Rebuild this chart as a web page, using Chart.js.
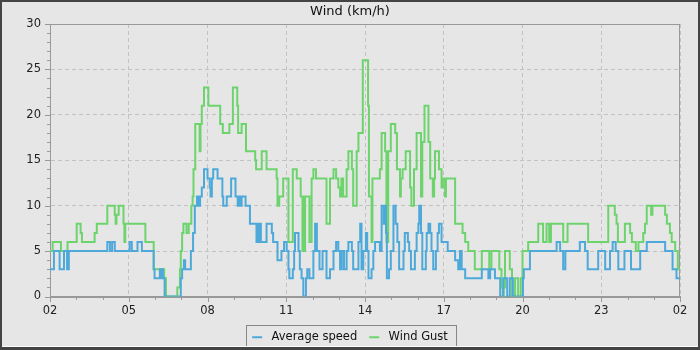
<!DOCTYPE html>
<html>
<head>
<meta charset="utf-8">
<script src="https://cdn.jsdelivr.net/npm/chart.js@4/dist/chart.umd.min.js"></script>
<style>
  html, body { margin: 0; padding: 0; background: #e6e6e6; }
  canvas { display: block; }
</style>
</head>
<body>
<canvas id="chartViento" width="700" height="350"></canvas>
<script>
// minutes after 02:00, each value holds until the next entry
const avgMinutes = [0, 9, 22, 32, 39, 43, 131, 137, 142, 148, 182, 187, 200, 210, 237, 239, 251, 254, 256, 258, 262, 299, 302, 306, 309, 322, 327, 331, 336, 339, 343, 347, 352, 360, 365, 367, 370, 373, 383, 394, 396, 404, 414, 424, 429, 432, 435, 438, 447, 457, 472, 475, 478, 480, 482, 495, 507, 510, 520, 529, 535, 541, 545, 547, 555, 558, 560, 568, 571, 575, 579, 585, 588, 593, 602, 606, 610, 616, 623, 632, 640, 648, 654, 659, 663, 667, 672, 678, 682, 690, 693, 705, 709, 712, 716, 722, 725, 728, 735, 739, 743, 754, 758, 763, 765, 768, 770, 775, 779, 785, 790, 794, 798, 808, 811, 818, 821, 825, 834, 838, 842, 844, 848, 851, 859, 861, 865, 869, 872, 876, 882, 886, 889, 895, 909, 926, 933, 937, 941, 949, 987, 1002, 1006, 1017, 1029, 1036, 1045, 1051, 1058, 1081, 1083, 1097, 1158, 1166, 1173, 1178, 1211, 1223, 1229, 1253, 1269, 1280, 1286, 1293, 1299, 1313, 1328, 1349, 1364, 1406, 1423, 1432, 1440];
const avgSpeed = [3, 5, 3, 5, 3, 5, 6, 5, 6, 5, 6, 5, 6, 5, 3, 2, 3, 2, 3, 2, 0, 2, 3, 4, 3, 5, 7, 10, 11, 10, 11, 12, 14, 13, 12, 11, 13, 14, 13, 11, 10, 11, 13, 11, 10, 11, 10, 11, 10, 8, 6, 8, 6, 8, 6, 8, 7, 6, 4, 5, 6, 5, 3, 2, 3, 5, 7, 5, 3, 2, 0, 2, 3, 2, 5, 8, 5, 3, 5, 2, 3, 5, 6, 5, 3, 5, 3, 5, 6, 5, 3, 6, 8, 3, 5, 7, 5, 2, 3, 5, 6, 5, 10, 8, 10, 7, 2, 3, 5, 10, 8, 6, 3, 5, 7, 6, 5, 3, 5, 7, 8, 10, 7, 3, 5, 7, 8, 7, 5, 3, 5, 7, 8, 6, 5, 4, 3, 5, 3, 2, 3, 2, 3, 2, 0, 2, 0, 2, 0, 2, 3, 5, 6, 5, 3, 5, 6, 5, 3, 5, 3, 5, 6, 5, 3, 5, 3, 5, 6, 5, 3, 2, 2];

const gustMinutes = [0, 6, 25, 40, 61, 70, 73, 102, 107, 131, 148, 150, 152, 157, 168, 170, 172, 218, 237, 261, 265, 291, 297, 299, 302, 305, 312, 317, 323, 326, 328, 332, 342, 344, 347, 352, 362, 389, 395, 410, 418, 428, 430, 438, 448, 469, 471, 484, 495, 518, 520, 524, 533, 545, 555, 564, 573, 577, 580, 581, 583, 593, 598, 602, 608, 632, 640, 648, 654, 659, 663, 666, 670, 678, 682, 690, 693, 701, 705, 715, 727, 729, 735, 737, 754, 758, 766, 769, 773, 779, 789, 793, 800, 802, 806, 813, 823, 826, 832, 838, 848, 851, 856, 865, 869, 875, 878, 880, 889, 895, 898, 903, 905, 926, 943, 949, 956, 971, 987, 1004, 1009, 1027, 1032, 1035, 1037, 1040, 1051, 1056, 1063, 1070, 1076, 1080, 1093, 1116, 1127, 1135, 1141, 1145, 1173, 1183, 1230, 1276, 1291, 1295, 1298, 1314, 1326, 1330, 1339, 1345, 1356, 1360, 1364, 1374, 1377, 1406, 1410, 1417, 1421, 1429, 1435, 1440];
const gustSpeed = [5, 6, 5, 6, 8, 7, 6, 7, 8, 10, 9, 8, 9, 10, 8, 6, 8, 6, 3, 2, 0, 1, 3, 5, 7, 8, 7, 8, 10, 11, 14, 19, 16, 19, 21, 23, 21, 19, 18, 19, 23, 21, 18, 19, 16, 15, 14, 16, 14, 13, 10, 11, 13, 6, 14, 13, 11, 5, 11, 5, 11, 6, 13, 14, 13, 8, 13, 14, 13, 12, 11, 13, 11, 14, 16, 14, 10, 16, 18, 26, 21, 11, 6, 13, 14, 18, 16, 6, 16, 19, 18, 14, 11, 13, 14, 16, 12, 10, 14, 18, 11, 17, 21, 17, 13, 11, 13, 16, 14, 12, 13, 11, 13, 8, 7, 6, 5, 3, 5, 3, 5, 3, 1, 0, 1, 5, 3, 0, 2, 0, 2, 5, 6, 8, 6, 8, 6, 8, 6, 8, 6, 10, 9, 8, 6, 8, 7, 6, 5, 6, 7, 8, 10, 9, 10, 9, 8, 7, 6, 5, 3, 3];

const tickLabels = ['02', '05', '08', '11', '14', '17', '20', '23', '02'];

const puntos = (ms, vs) => ms.map((m, i) => ({ x: m, y: vs[i] }));

const marcos = {
  id: 'marcos',
  beforeDraw(chart) {
    const { ctx, width, height } = chart;
    ctx.save();
    ctx.fillStyle = '#e6e6e6';
    ctx.fillRect(0, 0, width, height);
    ctx.restore();
  },
  beforeDatasetsDraw(chart) {
    const { ctx, chartArea: a } = chart;
    const xs = chart.scales.x, ys = chart.scales.y;
    ctx.save();
    ctx.strokeStyle = '#999999';
    ctx.lineWidth = 1;
    ctx.strokeRect(Math.round(a.left) + 0.5, Math.round(a.top) + 0.5,
      Math.round(a.right - a.left) - 1, Math.round(a.bottom - a.top));
    ctx.beginPath();
    for (let m = 0; m <= 1440; m += 60) {
      const px = Math.round(xs.getPixelForValue(m)) + 0.5;
      const len = m % 180 === 0 ? 5 : 3;
      ctx.moveTo(px, Math.round(a.bottom));
      ctx.lineTo(px, Math.round(a.bottom) + len);
    }
    for (let v = 0; v <= 30; v += 1) {
      const py = Math.round(ys.getPixelForValue(v)) + 0.5;
      const len = v % 5 === 0 ? 5 : 3;
      ctx.moveTo(Math.round(a.left), py);
      ctx.lineTo(Math.round(a.left) - len, py);
    }
    ctx.stroke();
    ctx.restore();
  },
  afterDraw(chart) {
    const { ctx, width, height } = chart;
    const cajas = chart.legend.legendHitBoxes;
    ctx.save();
    if (cajas && cajas.length) {
      const izq = Math.min(...cajas.map(b => b.left)) - 6;
      const der = Math.max(...cajas.map(b => b.left + b.width)) + 8;
      const arr = cajas[0].top - 7;
      ctx.strokeStyle = '#888888';
      ctx.lineWidth = 1;
      ctx.strokeRect(Math.round(izq) + 0.5, Math.round(arr) + 0.5, Math.round(der - izq), 40);
    }
    // outer frame
    ctx.fillStyle = '#444444';
    ctx.fillRect(0, 0, width, 2);
    ctx.fillRect(0, 0, 2, height);
    ctx.fillRect(width - 2, 0, 2, height);
    ctx.fillRect(0, height - 3, width, 3);
    ctx.fillStyle = '#ffffff';
    ctx.fillRect(2, height - 4, width - 4, 1);
    ctx.restore();
  }
};

const ctx = document.getElementById('chartViento').getContext('2d');

const chartViento = new Chart(ctx, {
  type: 'line',
  data: {
    datasets: [{
      label: 'Average speed',
      data: puntos(avgMinutes, avgSpeed),
      borderColor: '#4da9d9',
      backgroundColor: '#4da9d9',
      borderWidth: 2,
      stepped: 'before',
      pointRadius: 0,
      fill: false
    }, {
      label: 'Wind Gust',
      data: puntos(gustMinutes, gustSpeed),
      borderColor: '#6dd46d',
      backgroundColor: '#6dd46d',
      borderWidth: 2,
      stepped: 'before',
      pointRadius: 0,
      fill: false
    }]
  },
  options: {
    responsive: false,
    animation: false,
    layout: { padding: { left: 0, right: 0, top: 0, bottom: -3 } },
    scales: {
      x: {
        type: 'linear',
        min: 0,
        max: 1440,
        afterFit: s => { s.height = 23; },
        ticks: {
          stepSize: 180,
          autoSkip: false,
          maxRotation: 0,
          padding: 8,
          color: '#222222',
          font: { family: 'DejaVu Sans', size: 11.5 },
          callback: v => tickLabels[Math.round(v / 180)]
        },
        grid: {
          drawTicks: false,
          color: '#c2c2c2'
        },
        border: { display: true, color: '#999999', dash: [4, 3] }
      },
      y: {
        min: 0,
        max: 30,
        afterFit: s => { s.width = 50; },
        ticks: {
          stepSize: 5,
          padding: 9,
          color: '#222222',
          font: { family: 'DejaVu Sans', size: 11.5 }
        },
        grid: {
          drawTicks: false,
          color: '#c2c2c2'
        },
        border: { display: true, color: '#999999', dash: [4, 3] }
      },
      margen: {
        type: 'linear',
        position: 'right',
        afterFit: s => { s.width = 20; },
        ticks: { display: false },
        grid: { display: false, drawTicks: false },
        border: { display: false }
      }
    },
    plugins: {
      title: {
        display: true,
        text: 'Wind (km/h)',
        color: '#111111',
        font: { family: 'DejaVu Sans', size: 13, weight: 'normal' },
        padding: { top: 4, bottom: 4.4 }
      },
      legend: {
        position: 'bottom',
        labels: {
          usePointStyle: true,
          pointStyle: 'line',
          pointStyleWidth: 10,
          boxHeight: 11,
          padding: 12,
          color: '#111111',
          font: { family: 'DejaVu Sans', size: 11.5 },
          generateLabels: chart => Chart.defaults.plugins.legend.labels.generateLabels(chart)
            .map(item => ({ ...item, text: ' ' + item.text }))
        }
      },
      tooltip: { enabled: false }
    }
  },
  plugins: [marcos]
});
</script>
</body>
</html>
